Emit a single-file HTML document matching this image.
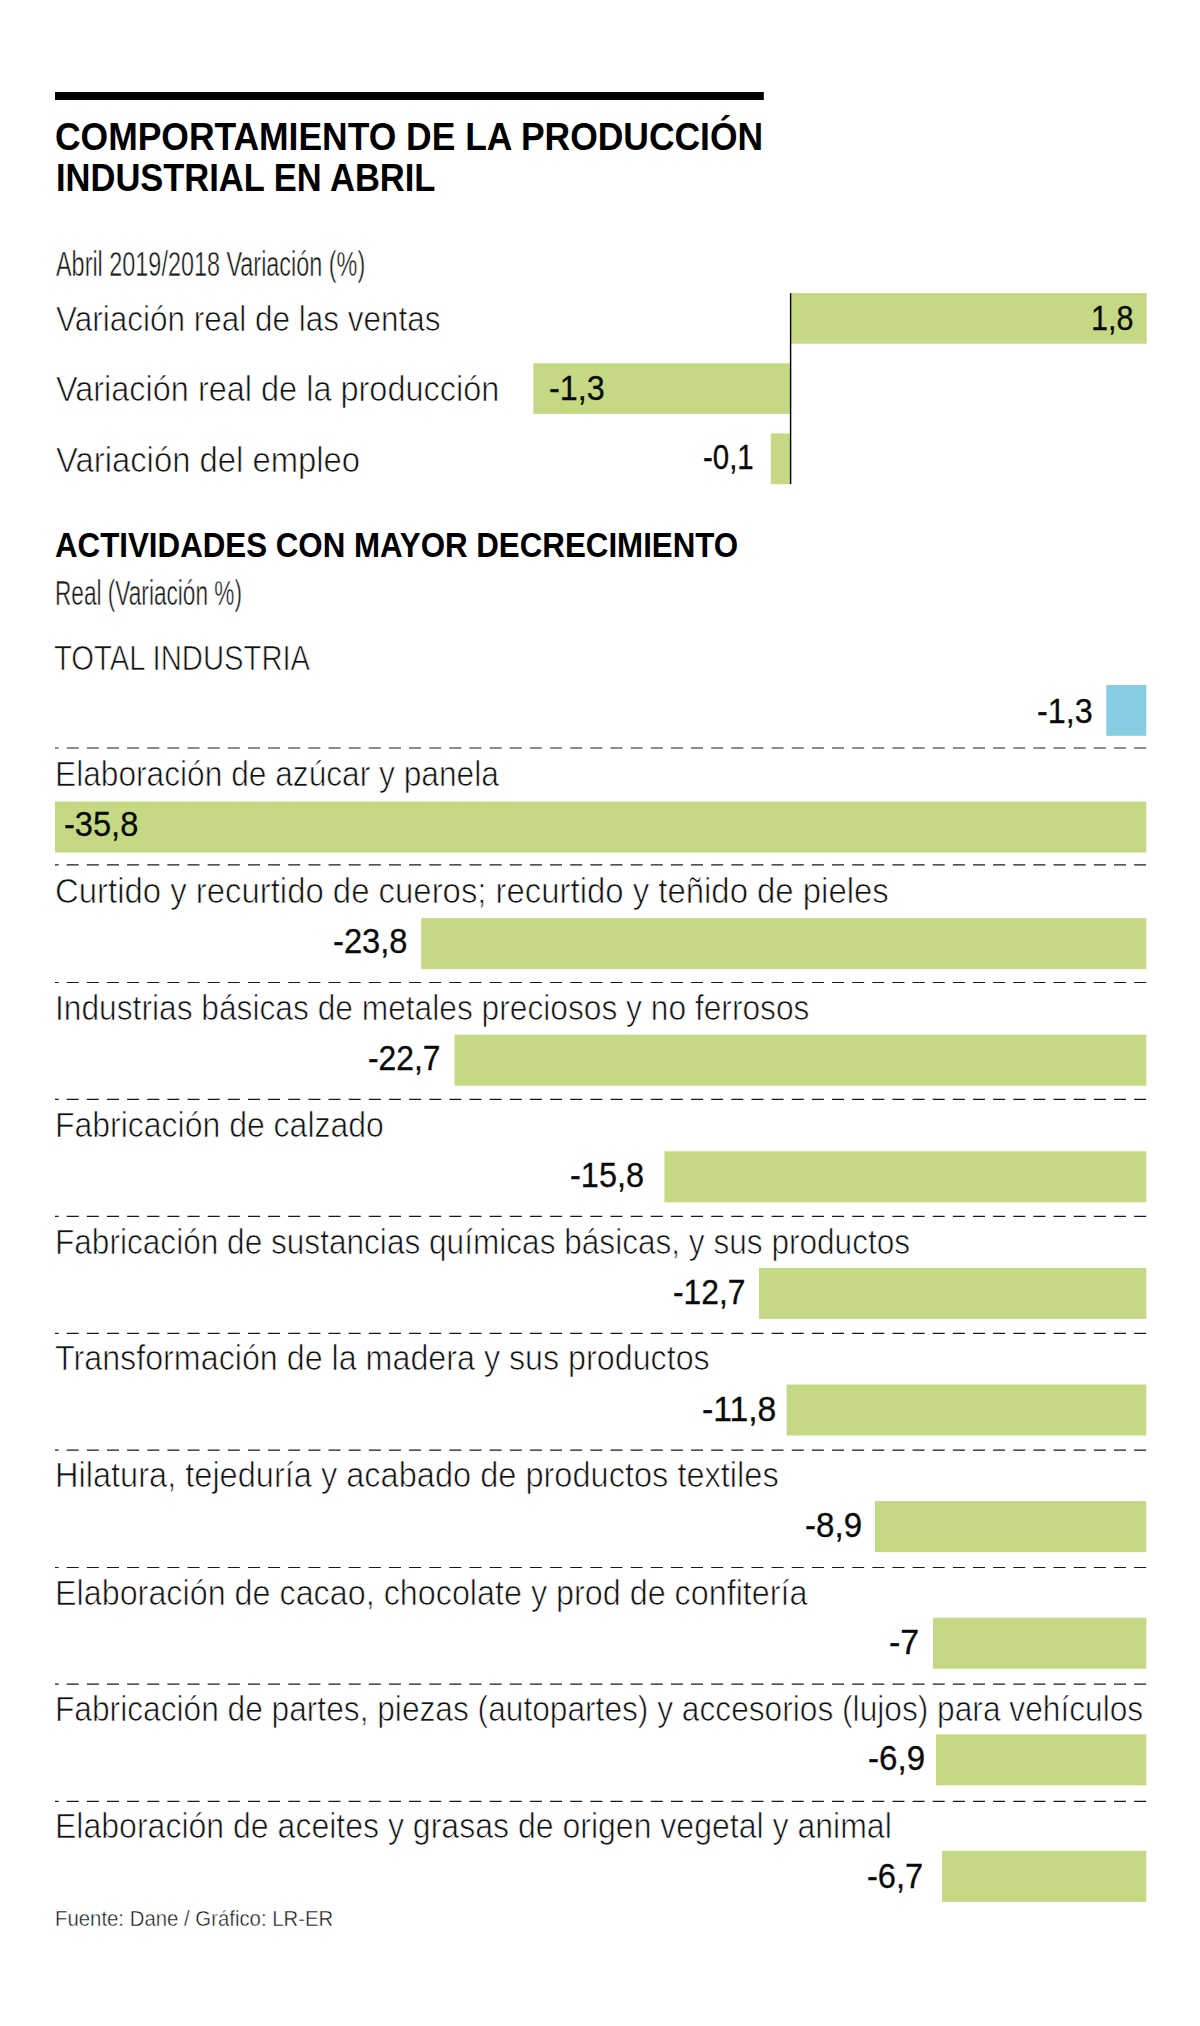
<!DOCTYPE html>
<html lang="es"><head><meta charset="utf-8"><title>Comportamiento de la producción industrial en abril</title>
<style>
html,body{margin:0;padding:0;background:#fff}
body{width:1200px;height:2026px;position:relative;overflow:hidden;font-family:"Liberation Sans",sans-serif}
.g{position:absolute;left:0;top:0}
.t{position:absolute;white-space:nowrap;line-height:1;transform-origin:0 0;margin:0;padding:0;font-weight:400;font-style:normal}
.b{font-weight:700;color:#000}
.l{color:#111;-webkit-text-stroke:.7px #fff}
.c{color:#1a1a1a;-webkit-text-stroke:.45px #fff}
.v{color:#0a0a0a;-webkit-text-stroke:.3px #0a0a0a}
.f{color:#111;-webkit-text-stroke:.45px #fff}
</style></head><body>
<svg class="g" width="1200" height="2026" viewBox="0 0 1200 2026">
<rect x="55" y="92" width="708.8" height="8" fill="#000"/>
<rect x="790.6" y="293.1" width="356.1" height="50.6" fill="#c5d984"/>
<rect x="533.3" y="363.3" width="257.3" height="50.6" fill="#c5d984"/>
<rect x="770.8" y="433.4" width="19.8" height="50.8" fill="#c5d984"/>
<rect x="789.9" y="293.1" width="1.4" height="191.1" fill="#000"/>
<rect x="1106.3" y="685" width="40" height="50.8" fill="#86cde4"/>
<rect x="55" y="801.5" width="1091.3" height="51" fill="#c5d984"/>
<rect x="421.2" y="918.1" width="725.1" height="51" fill="#c5d984"/>
<rect x="454.5" y="1034.7" width="691.8" height="51" fill="#c5d984"/>
<rect x="664.4" y="1151.3" width="481.9" height="51" fill="#c5d984"/>
<rect x="759" y="1267.9" width="387.3" height="51" fill="#c5d984"/>
<rect x="786.6" y="1384.5" width="359.7" height="51" fill="#c5d984"/>
<rect x="875" y="1501.1" width="271.3" height="51" fill="#c5d984"/>
<rect x="933" y="1617.7" width="213.3" height="51" fill="#c5d984"/>
<rect x="936" y="1734.3" width="210.3" height="51" fill="#c5d984"/>
<rect x="942" y="1850.9" width="204.3" height="51" fill="#c5d984"/>
<line x1="55" y1="748.0" x2="1146.3" y2="748.0" stroke="#1a1a1a" stroke-width="1.2" stroke-dasharray="12 8.14" stroke-dashoffset="8.44"/>
<line x1="55" y1="864.9" x2="1146.3" y2="864.9" stroke="#1a1a1a" stroke-width="1.2" stroke-dasharray="12 8.14" stroke-dashoffset="8.44"/>
<line x1="55" y1="982.5" x2="1146.3" y2="982.5" stroke="#1a1a1a" stroke-width="1.2" stroke-dasharray="12 8.14" stroke-dashoffset="8.44"/>
<line x1="55" y1="1099.3" x2="1146.3" y2="1099.3" stroke="#1a1a1a" stroke-width="1.2" stroke-dasharray="12 8.14" stroke-dashoffset="8.44"/>
<line x1="55" y1="1216.4" x2="1146.3" y2="1216.4" stroke="#1a1a1a" stroke-width="1.2" stroke-dasharray="12 8.14" stroke-dashoffset="8.44"/>
<line x1="55" y1="1333.4" x2="1146.3" y2="1333.4" stroke="#1a1a1a" stroke-width="1.2" stroke-dasharray="12 8.14" stroke-dashoffset="8.44"/>
<line x1="55" y1="1450.2" x2="1146.3" y2="1450.2" stroke="#1a1a1a" stroke-width="1.2" stroke-dasharray="12 8.14" stroke-dashoffset="8.44"/>
<line x1="55" y1="1567.5" x2="1146.3" y2="1567.5" stroke="#1a1a1a" stroke-width="1.2" stroke-dasharray="12 8.14" stroke-dashoffset="8.44"/>
<line x1="55" y1="1684.2" x2="1146.3" y2="1684.2" stroke="#1a1a1a" stroke-width="1.2" stroke-dasharray="12 8.14" stroke-dashoffset="8.44"/>
<line x1="55" y1="1801.4" x2="1146.3" y2="1801.4" stroke="#1a1a1a" stroke-width="1.2" stroke-dasharray="12 8.14" stroke-dashoffset="8.44"/>
</svg>
<h1 class="t b" id="t1" style="left:55.25px;top:117.31px;font-size:39px;transform:scaleX(0.9087)">COMPORTAMIENTO DE LA PRODUCCIÓN</h1>
<h1 class="t b" id="t2" style="left:55.69px;top:158.01px;font-size:39px;transform:scaleX(0.8843)">INDUSTRIAL EN ABRIL</h1>
<div class="t c" id="s1" style="left:56.25px;top:246.30px;font-size:35px;transform:scaleX(0.6687)">Abril 2019/2018 Variación (%)</div>
<div class="t l" id="l1" style="left:55.56px;top:301.00px;font-size:35px;transform:scaleX(0.8999)">Variación real de las ventas</div>
<div class="t l" id="l2" style="left:55.56px;top:371.00px;font-size:35px;transform:scaleX(0.9274)">Variación real de la producción</div>
<div class="t l" id="l3" style="left:55.56px;top:441.50px;font-size:35px;transform:scaleX(0.9379)">Variación del empleo</div>
<div class="t v" id="va" style="left:1090.77px;top:301.41px;font-size:34.5px;transform:scaleX(0.8850)">1,8</div>
<div class="t v" id="vb" style="left:548.76px;top:371.00px;font-size:34.5px;transform:scaleX(0.9361)">-1,3</div>
<div class="t v" id="vc" style="left:702.59px;top:439.61px;font-size:34.5px;transform:scaleX(0.8536)">-0,1</div>
<h2 class="t b" id="h2" style="left:55.12px;top:527.70px;font-size:35.6px;transform:scaleX(0.8794)">ACTIVIDADES CON MAYOR DECRECIMIENTO</h2>
<div class="t c" id="s2" style="left:55.24px;top:575.21px;font-size:35px;transform:scaleX(0.6465)">Real (Variación %)</div>
<div class="t l" id="ti" style="left:54.24px;top:639.50px;font-size:35px;transform:scaleX(0.8353)">TOTAL INDUSTRIA</div>
<div class="t v" id="vt" style="left:1036.56px;top:694.31px;font-size:34.5px;transform:scaleX(0.9361)">-1,3</div>
<div class="t l" id="r1" style="left:55.40px;top:756.30px;font-size:35px;transform:scaleX(0.9053)">Elaboración de azúcar y panela</div>
<div class="t v" id="w1" style="left:63.85px;top:806.81px;font-size:34.5px;transform:scaleX(0.9443)">-35,8</div>
<div class="t l" id="r2" style="left:55.03px;top:873.00px;font-size:35px;transform:scaleX(0.9398)">Curtido y recurtido de cueros; recurtido y teñido de pieles</div>
<div class="t v" id="w2" style="left:332.75px;top:924.31px;font-size:34.5px;transform:scaleX(0.9470)">-23,8</div>
<div class="t l" id="r3" style="left:55.07px;top:989.91px;font-size:35px;transform:scaleX(0.9061)">Industrias básicas de metales preciosos y no ferrosos</div>
<div class="t v" id="w3" style="left:368.29px;top:1041.02px;font-size:34.5px;transform:scaleX(0.9221)">-22,7</div>
<div class="t l" id="r4" style="left:55.00px;top:1107.21px;font-size:35px;transform:scaleX(0.9136)">Fabricación de calzado</div>
<div class="t v" id="w4" style="left:569.96px;top:1158.02px;font-size:34.5px;transform:scaleX(0.9417)">-15,8</div>
<div class="t l" id="r5" style="left:55.00px;top:1224.21px;font-size:35px;transform:scaleX(0.9026)">Fabricación de sustancias químicas básicas, y sus productos</div>
<div class="t v" id="w5" style="left:672.59px;top:1275.02px;font-size:34.5px;transform:scaleX(0.9208)">-12,7</div>
<div class="t l" id="r6" style="left:55.00px;top:1340.30px;font-size:35px;transform:scaleX(0.9212)">Transformación de la madera y sus productos</div>
<div class="t v" id="w6" style="left:702.10px;top:1391.61px;font-size:34.5px;transform:scaleX(0.9775)">-11,8</div>
<div class="t l" id="r7" style="left:55.00px;top:1457.21px;font-size:35px;transform:scaleX(0.9299)">Hilatura, tejeduría y acabado de productos textiles</div>
<div class="t v" id="w7" style="left:804.53px;top:1508.40px;font-size:34.5px;transform:scaleX(0.9594)">-8,9</div>
<div class="t l" id="r8" style="left:55.00px;top:1574.71px;font-size:35px;transform:scaleX(0.9230)">Elaboración de cacao, chocolate y prod de confitería</div>
<div class="t v" id="w8" style="left:889.49px;top:1625.40px;font-size:34.5px;transform:scaleX(0.9847)">-7</div>
<div class="t l" id="r9" style="left:55.00px;top:1690.80px;font-size:35px;transform:scaleX(0.9051)">Fabricación de partes, piezas (autopartes) y accesorios (lujos) para vehículos</div>
<div class="t v" id="w9" style="left:867.53px;top:1741.40px;font-size:34.5px;transform:scaleX(0.9594)">-6,9</div>
<div class="t l" id="r10" style="left:54.87px;top:1807.50px;font-size:35px;transform:scaleX(0.9151)">Elaboración de aceites y grasas de origen vegetal y animal</div>
<div class="t v" id="w10" style="left:867.05px;top:1859.02px;font-size:34.5px;transform:scaleX(0.9451)">-6,7</div>
<footer class="t f" id="ft" style="left:55.13px;top:1908.00px;font-size:22.5px;transform:scaleX(0.9047)">Fuente: Dane / Gráfico: LR-ER</footer>
</body></html>
